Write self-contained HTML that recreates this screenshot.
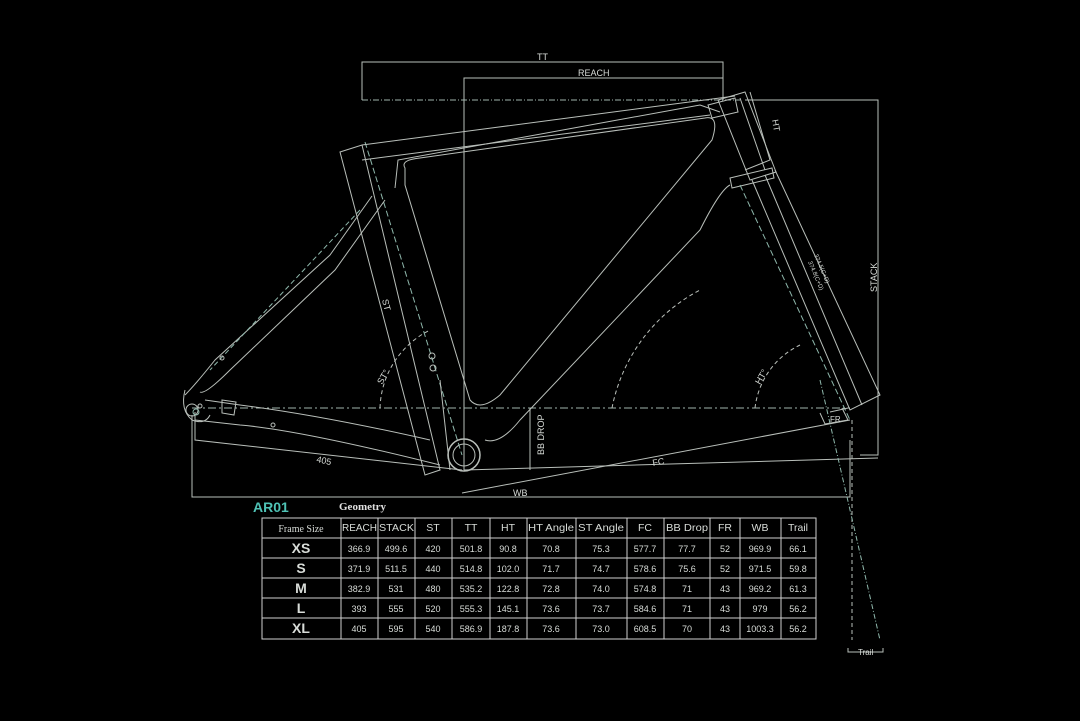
<!DOCTYPE html>
<html><head><meta charset="utf-8"><style>
html,body{margin:0;padding:0;background:#000;}
body{width:1080px;height:721px;overflow:hidden;position:relative;}
svg{position:absolute;left:0;top:0;}
text{font-family:"Liberation Sans",sans-serif;fill:#d8dcd8;}
</style></head><body>
<svg width="1080" height="721" viewBox="0 0 1080 721">
<g fill="none" stroke="#b9bfba" stroke-width="1">
<polyline points="362,100 362,62 723,62 723,100"/>
<polyline points="464,470 464,78 723,78 723,96"/>
<line x1="362" y1="100" x2="740" y2="100" stroke-dasharray="6,2,1,2" stroke="#9fb5ad"/>
<polyline points="745,100 878,100 878,455 860,455"/>
<line x1="464" y1="470" x2="878" y2="458"/>
<polyline points="192,415 192,497 850,497 850,440"/>
<line x1="192" y1="408" x2="850" y2="408" stroke-dasharray="8,3,2,3" stroke="#9fb5ad"/>
<polyline points="195,412 195,440 462,470"/>
<line x1="462" y1="493" x2="850" y2="420"/>
<line x1="852" y1="420" x2="852" y2="640" stroke-dasharray="4,3"/>
<line x1="820" y1="380" x2="880" y2="640" stroke-dasharray="5,2,1,2" stroke="#8fb8ac"/>
<polyline points="848,648 848,652 883,652 883,648"/>
<path d="M380,408 A90,90 0 0 1 430,330" stroke-dasharray="4,3"/>
<path d="M755,408 A80,80 0 0 1 800,345" stroke-dasharray="4,3"/>
<path d="M612,408 A170,170 0 0 1 700,290" stroke-dasharray="4,3"/>
<polygon points="340,152 362,145 440,470 425,475"/>
<line x1="365" y1="142" x2="462" y2="455" stroke-dasharray="6,3" stroke="#8fb8ac"/>
<polyline points="362,145 735,96"/>
<polyline points="395,188 398,160 700,105 720,112"/>
<polyline points="362,160 710,115"/>
<path d="M405,168 Q400,160 420,158 L705,118 Q720,115 712,140 L500,395 Q480,412 470,400 L405,185 Z"/>
<path d="M730,185 Q720,190 700,230 L520,420 Q500,445 485,440"/>
<polygon points="718,100 745,92 776,172 750,180"/>
<line x1="740" y1="98" x2="765" y2="170"/>
<polyline points="750,92 770,160 745,170"/>
<polygon points="708,105 735,98 738,112 712,118"/>
<polygon points="730,178 772,168 774,178 732,188"/>
<polyline points="752,180 850,410 880,395 775,170"/>
<line x1="765" y1="175" x2="862" y2="405"/>
<line x1="740" y1="185" x2="850" y2="420" stroke-dasharray="6,3" stroke="#8fb8ac"/>
<line x1="830" y1="412" x2="848" y2="408"/>
<polyline points="842,408 848,420 825,424 820,413"/>
<path d="M372,196 L330,255 L215,360 Q195,385 185,395"/>
<path d="M385,200 L335,270 L230,370 Q205,395 200,392"/>
<line x1="360" y1="210" x2="210" y2="370" stroke-dasharray="5,3" stroke="#8fb8ac"/>
<path d="M195,420 L240,425 Q300,430 440,465"/>
<path d="M205,400 L240,405 Q320,415 430,440"/>
<polygon points="222,400 236,402 234,415 222,413"/>
<path d="M185,390 Q180,410 192,420 Q205,425 210,415"/>
<circle cx="192" cy="410" r="6"/>
<circle cx="196" cy="412" r="3" stroke="#8fb8ac"/>
<circle cx="200" cy="406" r="2"/>
<circle cx="222" cy="358" r="2"/>
<circle cx="273" cy="425" r="2"/>
<circle cx="432" cy="356" r="3"/>
<circle cx="433" cy="368" r="3"/>
<circle cx="464" cy="455" r="16" stroke-width="1.5"/>
<circle cx="464" cy="455" r="11"/>
<line x1="530" y1="408" x2="530" y2="470"/>
<line x1="440" y1="380" x2="450" y2="470"/>
</g>
<g font-size="9">
<text x="537" y="60">TT</text>
<text x="578" y="76">REACH</text>
<text x="772" y="120" transform="rotate(80 772 120)">HT</text>
<text x="877" y="292" transform="rotate(-90 877 292)">STACK</text>
<text x="382" y="300" transform="rotate(76 382 300)">ST</text>
<text x="382" y="385" transform="rotate(-60 382 385)">ST°</text>
<text x="760" y="385" transform="rotate(-60 760 385)">HT°</text>
<text x="544" y="455" transform="rotate(-90 544 455)">BB DROP</text>
<text x="316" y="462" transform="rotate(12 316 462)">405</text>
<text x="653" y="466" transform="rotate(-10 653 466)">FC</text>
<text x="513" y="496">WB</text>
<text x="830" y="422" font-size="8">FR</text>
<text x="858" y="655" font-size="8">Trail</text>
<text x="814" y="255" font-size="6" transform="rotate(67 814 255)">374.5(C+D)</text>
<text x="808" y="262" font-size="6" transform="rotate(67 808 262)">374.8(C+D)</text>
</g>
<text x="253" y="512" font-size="14" font-weight="bold" style="fill:#4fc2b5">AR01</text>
<text x="339" y="510" font-size="11" font-weight="bold" style="font-family:'Liberation Serif',serif;fill:#e0e0e0">Geometry</text>
<g stroke="#d0d0d0" stroke-width="1" fill="none">
<rect x="262" y="518" width="554" height="121"/>
<line x1="262" y1="538" x2="816" y2="538"/><line x1="262" y1="558" x2="816" y2="558"/>
<line x1="262" y1="578" x2="816" y2="578"/><line x1="262" y1="598" x2="816" y2="598"/>
<line x1="262" y1="618" x2="816" y2="618"/>
<line x1="341" y1="518" x2="341" y2="639"/><line x1="378" y1="518" x2="378" y2="639"/>
<line x1="415" y1="518" x2="415" y2="639"/><line x1="452" y1="518" x2="452" y2="639"/>
<line x1="490" y1="518" x2="490" y2="639"/><line x1="527" y1="518" x2="527" y2="639"/>
<line x1="576" y1="518" x2="576" y2="639"/><line x1="627" y1="518" x2="627" y2="639"/>
<line x1="664" y1="518" x2="664" y2="639"/><line x1="710" y1="518" x2="710" y2="639"/>
<line x1="740" y1="518" x2="740" y2="639"/><line x1="781" y1="518" x2="781" y2="639"/>
</g>
<g font-size="10.5" text-anchor="middle">
<text x="301" y="532" font-size="10" style="font-family:'Liberation Serif',serif">Frame Size</text>
<text x="359.5" y="531" textLength="35" lengthAdjust="spacingAndGlyphs">REACH</text><text x="396.5" y="531" textLength="35" lengthAdjust="spacingAndGlyphs">STACK</text><text x="433" y="531">ST</text>
<text x="471" y="531">TT</text><text x="508" y="531">HT</text><text x="551" y="531" textLength="46" lengthAdjust="spacingAndGlyphs">HT Angle</text>
<text x="601" y="531" textLength="46" lengthAdjust="spacingAndGlyphs">ST Angle</text><text x="645" y="531">FC</text><text x="687" y="531" textLength="42" lengthAdjust="spacingAndGlyphs">BB Drop</text>
<text x="725" y="531">FR</text><text x="760" y="531">WB</text><text x="798" y="531">Trail</text>
</g>
<g font-size="14" font-weight="bold" text-anchor="middle">
<text x="301" y="553">XS</text><text x="301" y="573">S</text><text x="301" y="593">M</text>
<text x="301" y="613">L</text><text x="301" y="633">XL</text>
</g>
<g font-size="9" text-anchor="middle">
<text x="359" y="552">366.9</text><text x="396" y="552">499.6</text><text x="433" y="552">420</text><text x="471" y="552">501.8</text><text x="508" y="552">90.8</text><text x="551" y="552">70.8</text><text x="601" y="552">75.3</text><text x="645" y="552">577.7</text><text x="687" y="552">77.7</text><text x="725" y="552">52</text><text x="760" y="552">969.9</text><text x="798" y="552">66.1</text>
<text x="359" y="572">371.9</text><text x="396" y="572">511.5</text><text x="433" y="572">440</text><text x="471" y="572">514.8</text><text x="508" y="572">102.0</text><text x="551" y="572">71.7</text><text x="601" y="572">74.7</text><text x="645" y="572">578.6</text><text x="687" y="572">75.6</text><text x="725" y="572">52</text><text x="760" y="572">971.5</text><text x="798" y="572">59.8</text>
<text x="359" y="592">382.9</text><text x="396" y="592">531</text><text x="433" y="592">480</text><text x="471" y="592">535.2</text><text x="508" y="592">122.8</text><text x="551" y="592">72.8</text><text x="601" y="592">74.0</text><text x="645" y="592">574.8</text><text x="687" y="592">71</text><text x="725" y="592">43</text><text x="760" y="592">969.2</text><text x="798" y="592">61.3</text>
<text x="359" y="612">393</text><text x="396" y="612">555</text><text x="433" y="612">520</text><text x="471" y="612">555.3</text><text x="508" y="612">145.1</text><text x="551" y="612">73.6</text><text x="601" y="612">73.7</text><text x="645" y="612">584.6</text><text x="687" y="612">71</text><text x="725" y="612">43</text><text x="760" y="612">979</text><text x="798" y="612">56.2</text>
<text x="359" y="632">405</text><text x="396" y="632">595</text><text x="433" y="632">540</text><text x="471" y="632">586.9</text><text x="508" y="632">187.8</text><text x="551" y="632">73.6</text><text x="601" y="632">73.0</text><text x="645" y="632">608.5</text><text x="687" y="632">70</text><text x="725" y="632">43</text><text x="760" y="632">1003.3</text><text x="798" y="632">56.2</text>
</g>
</svg>
</body></html>
